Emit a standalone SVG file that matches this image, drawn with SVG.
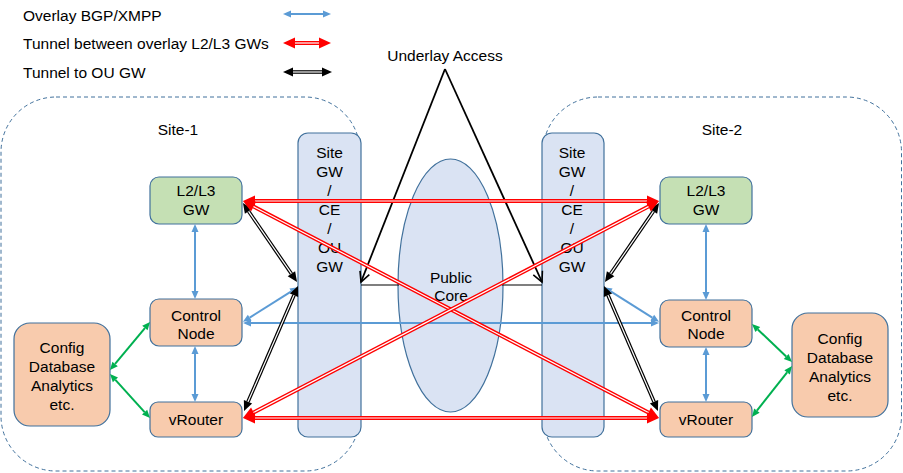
<svg xmlns="http://www.w3.org/2000/svg" width="903" height="473" viewBox="0 0 903 473">
<defs>
<style>
text{font-family:"Liberation Sans",Arial,sans-serif;font-size:15.5px;fill:#000;text-anchor:middle}
.leg{text-anchor:start}
.site{fill:none;stroke:#41719c;stroke-width:1;stroke-dasharray:4 3}
.gw{fill:#dae3f3;stroke:#41719c;stroke-width:1.2}
.l23{fill:#c5e0b4;stroke:#41719c;stroke-width:1.2}
.org{fill:#f8cbad;stroke:#41719c;stroke-width:1.2}
.blue{stroke:#5b9bd5;stroke-width:2;fill:none;marker-start:url(#ab);marker-end:url(#ab)}
.green{stroke:#00b050;stroke-width:2;fill:none;marker-start:url(#ag);marker-end:url(#ag)}
.red{stroke:#ff0000;stroke-width:4;fill:none;marker-start:url(#ar);marker-end:url(#ar)}
.blk{stroke:#000;stroke-width:3.6;fill:none;marker-start:url(#ak);marker-end:url(#ak)}
.in{stroke:#fff;stroke-width:1.2;fill:none}
.ul{stroke:#000;stroke-width:1.8;fill:none;marker-end:url(#ao)}
.hl{stroke:#000;stroke-width:1.2;fill:none}
</style>
<marker id="ab" markerUnits="userSpaceOnUse" markerWidth="9" markerHeight="8" refX="0" refY="3.5" orient="auto-start-reverse" overflow="visible"><path d="M0,0 L8,3.5 L0,7 z" fill="#5b9bd5"/></marker>
<marker id="ag" markerUnits="userSpaceOnUse" markerWidth="9" markerHeight="8" refX="0" refY="3.5" orient="auto-start-reverse" overflow="visible"><path d="M0,0 L8,3.5 L0,7 z" fill="#00b050"/></marker>
<marker id="ar" markerUnits="userSpaceOnUse" markerWidth="13" markerHeight="12" refX="0" refY="5.5" orient="auto-start-reverse" overflow="visible"><path d="M0,0 L12,5.5 L0,11 z" fill="#ff0000"/></marker>
<marker id="ak" markerUnits="userSpaceOnUse" markerWidth="11" markerHeight="10" refX="0" refY="4.5" orient="auto-start-reverse" overflow="visible"><path d="M0,0 L10,4.5 L0,9 z" fill="#000"/></marker>
<marker id="ao" markerUnits="userSpaceOnUse" markerWidth="12" markerHeight="12" refX="10" refY="5" orient="auto" overflow="visible"><path d="M0,0 L10,5 L0,10" fill="none" stroke="#000" stroke-width="1.6"/></marker>
</defs>

<g id="legend">
<text class="leg" x="23" y="20.5">Overlay BGP/XMPP</text>
<text class="leg" x="23" y="48.5">Tunnel between overlay L2/L3 GWs</text>
<text class="leg" x="23" y="77.5">Tunnel to OU GW</text>
<path class="blue" d="M291,14 L323,14"/>
<path class="red" d="M295,43 L319,43"/><path class="in" d="M295,43 L319,43"/>
<path class="blk" d="M293,72 L322,72"/><path class="in" d="M293,72 L322,72"/>
</g>

<g id="site1">
<rect class="site" x="1" y="97" width="359" height="374" rx="55"/>
<text x="178" y="134.5">Site-1</text>
</g>
<g id="site2">
<rect class="site" x="543" y="97" width="358.5" height="374" rx="55"/>
<text x="722" y="134.5">Site-2</text>
</g>

<g id="site1-gw">
<rect class="gw" x="298" y="133" width="63" height="304" rx="10"/>
<text x="329.5" y="157.5">Site<tspan x="329.5" dy="19">GW</tspan><tspan x="329.5" dy="19">/</tspan><tspan x="329.5" dy="19">CE</tspan><tspan x="329.5" dy="19">/</tspan><tspan x="329.5" dy="19">OU</tspan><tspan x="329.5" dy="19">GW</tspan></text>
</g>
<g id="site2-gw">
<rect class="gw" x="542" y="133" width="62" height="304" rx="10"/>
<text x="572" y="157.5">Site<tspan x="572" dy="19">GW</tspan><tspan x="572" dy="19">/</tspan><tspan x="572" dy="19">CE</tspan><tspan x="572" dy="19">/</tspan><tspan x="572" dy="19">OU</tspan><tspan x="572" dy="19">GW</tspan></text>
</g>

<g id="underlay-label">
<text x="445" y="60.5">Underlay Access</text>
</g>

<g id="public-core">
<ellipse cx="450.5" cy="285.5" rx="52.5" ry="126.5" fill="#dae3f3" stroke="#41719c" stroke-width="1.2"/>
<text x="451" y="282.5">Public</text>
<text x="451" y="300.5">Core</text>
</g>

<g id="site1-l2l3">
<rect class="l23" x="150" y="177" width="92" height="47" rx="9"/>
<text x="196" y="195.5">L2/L3</text><text x="196" y="214.5">GW</text>
</g>
<g id="site1-control">
<rect class="org" x="150" y="299" width="92" height="47" rx="9"/>
<text x="196" y="320.5">Control</text><text x="196" y="338.5">Node</text>
</g>
<g id="site1-vrouter">
<rect class="org" x="150" y="402" width="92" height="35" rx="8"/>
<text x="196" y="424.5">vRouter</text>
</g>
<g id="site1-config">
<rect class="org" x="14" y="323" width="96" height="103" rx="16"/>
<text x="62" y="352.5">Config</text><text x="62" y="371.5">Database</text><text x="62" y="390.5">Analytics</text><text x="62" y="409.5">etc.</text>
</g>

<g id="site2-l2l3">
<rect class="l23" x="660" y="177" width="92" height="47" rx="9"/>
<text x="706" y="196">L2/L3</text><text x="706" y="215">GW</text>
</g>
<g id="site2-control">
<rect class="org" x="660" y="300" width="92" height="47" rx="9"/>
<text x="706" y="320.5">Control</text><text x="706" y="338.5">Node</text>
</g>
<g id="site2-vrouter">
<rect class="org" x="660" y="402" width="92" height="35" rx="8"/>
<text x="706" y="424.5">vRouter</text>
</g>
<g id="site2-config">
<rect class="org" x="792" y="313" width="96" height="104" rx="16"/>
<text x="840" y="343.5">Config</text><text x="840" y="362.5">Database</text><text x="840" y="381.5">Analytics</text><text x="840" y="400.5">etc.</text>
</g>

<g id="connectors">
<!-- underlay -->
<path class="hl" d="M361,285 L399,285"/>
<path class="hl" d="M502,285 L542,285"/>
<path class="ul" d="M445,69 L361,282"/>
<path class="ul" d="M445,69 L542,282"/>
<!-- blue overlay -->
<path class="blue" d="M195,232 L195,291"/>
<path class="blue" d="M195,354 L195,394"/>
<path class="blue" d="M249.7,317.6 L291.3,291.4"/>
<path class="blue" d="M251,323 L651,323"/>
<path class="blue" d="M652.3,317.6 L610.7,291.4"/>
<path class="blue" d="M706,232 L706,292"/>
<path class="blue" d="M706,355 L706,394"/>
<!-- green -->
<path class="green" d="M115.1,363.9 L144.9,328.1"/>
<path class="green" d="M115.4,379.9 L144.6,412.1"/>
<path class="green" d="M757.8,329.5 L786.2,356.5"/>
<path class="green" d="M756.9,410.7 L787.1,372.3"/>
<!-- black tunnels to OU GW -->
<path class="blk" d="M248.6,211.3 L291.4,273.7"/><path class="in" d="M248.6,211.3 L291.4,273.7"/>
<path class="blk" d="M248,401.8 L294,295.2"/><path class="in" d="M248,401.8 L294,295.2"/>
<path class="blk" d="M653.4,211.3 L610.6,273.7"/><path class="in" d="M653.4,211.3 L610.6,273.7"/>
<path class="blk" d="M654,401.8 L608,295.2"/><path class="in" d="M654,401.8 L608,295.2"/>
<!-- red tunnels -->
<path class="red" d="M255,201 L647,201"/><path class="in" d="M255,201 L647,201"/>
<path class="red" d="M253.6,206.6 L648.4,412.5"/><path class="in" d="M253.6,206.6 L648.4,412.5"/>
<path class="red" d="M253.6,412.5 L648.4,206.6"/><path class="in" d="M253.6,412.5 L648.4,206.6"/>
<path class="red" d="M255,418 L647,418"/><path class="in" d="M255,418 L647,418"/>
</g>
</svg>
